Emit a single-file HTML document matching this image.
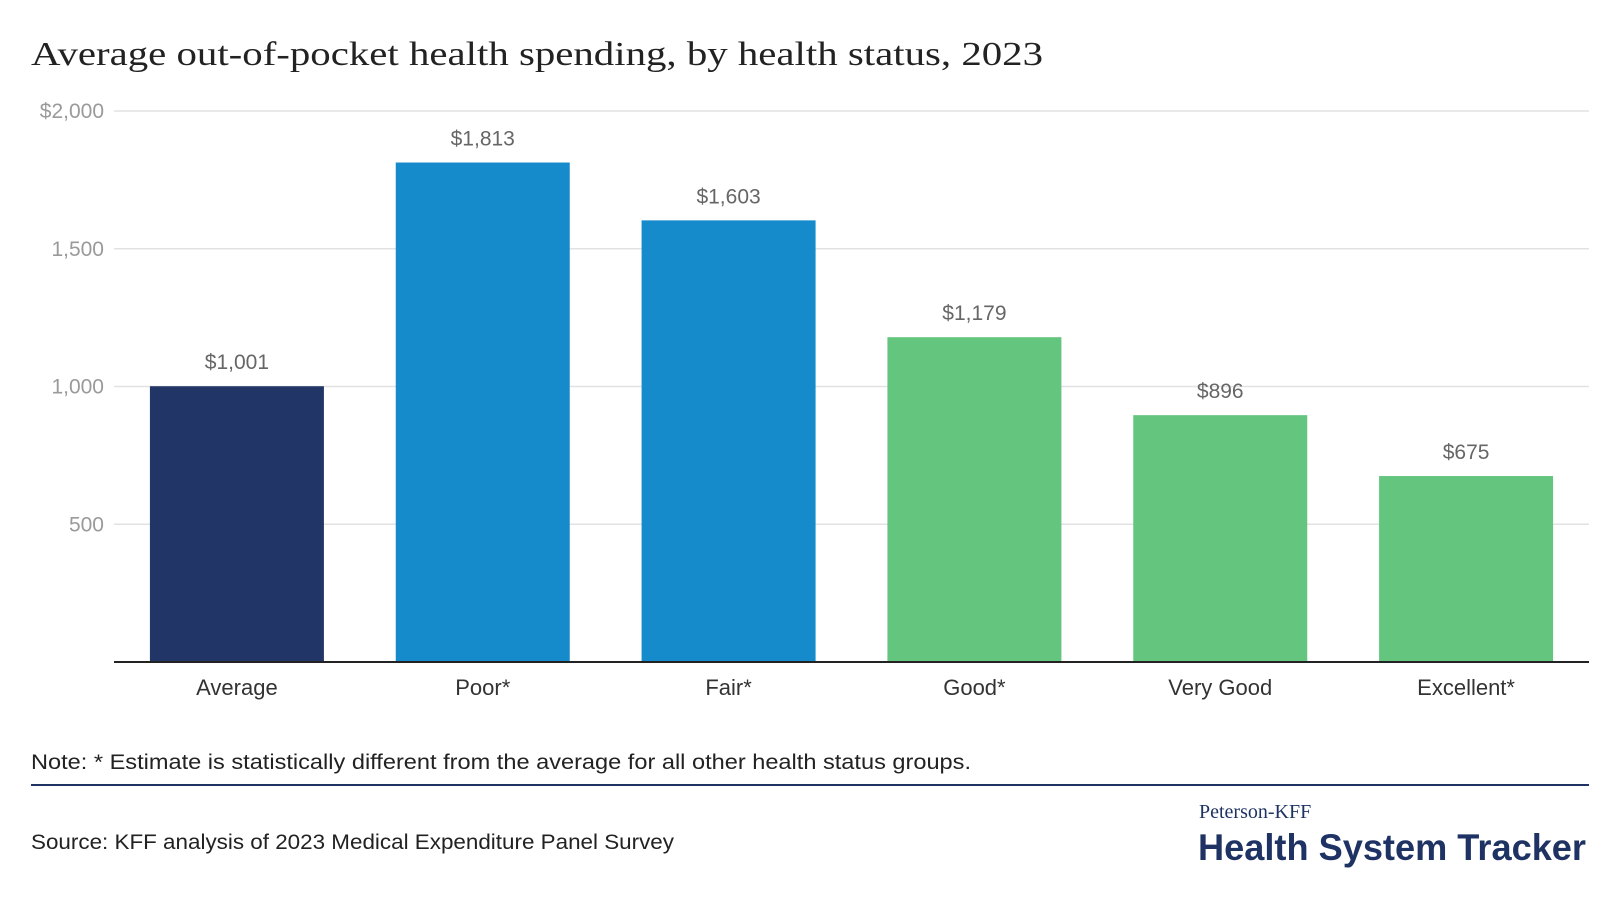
<!DOCTYPE html>
<html><head><meta charset="utf-8"><style>
html,body{margin:0;padding:0;background:#fff;width:1620px;height:920px;overflow:hidden;font-family:"Liberation Sans",sans-serif}
</style></head><body>
<svg width="1620" height="920" xmlns="http://www.w3.org/2000/svg">
<text x="31" y="65" font-family="Liberation Serif,serif" font-size="34" fill="#222" textLength="1012" lengthAdjust="spacingAndGlyphs">Average out-of-pocket health spending, by health status, 2023</text>
<g id="grid"></g>
<g id="bars"></g>
<line x1="31" y1="785" x2="1589" y2="785" stroke="#1e3364" stroke-width="2"/>
<text x="31" y="769" font-size="21" fill="#222" textLength="940" lengthAdjust="spacingAndGlyphs">Note: * Estimate is statistically different from the average for all other health status groups.</text>
<text x="31" y="849" font-size="21" fill="#222" textLength="643" lengthAdjust="spacingAndGlyphs">Source: KFF analysis of 2023 Medical Expenditure Panel Survey</text>
<text x="1199" y="818" font-family="Liberation Serif,serif" font-size="20" fill="#1e3364">Peterson-KFF</text>
<text x="1198" y="860" font-size="37" font-weight="bold" fill="#1e3364" textLength="388" lengthAdjust="spacingAndGlyphs">Health System Tracker</text>
</svg>
<script>
const categories=["Average","Poor*","Fair*","Good*","Very Good","Excellent*"];
const values=[1001,1813,1603,1179,896,675];
const labels=["$1,001","$1,813","$1,603","$1,179","$896","$675"];
const colors=["#213566","#168bcb","#168bcb","#63c57e","#63c57e","#63c57e"];
const ticks=[500,1000,1500,2000];
const tickLabels=["500","1,000","1,500","$2,000"];
const NS="http://www.w3.org/2000/svg";
const x0=114,x1=1589,y0=662,yTop=111,ymax=2000;
const band=(x1-x0)/categories.length,bw=174;
const y=v=>y0-(v/ymax)*(y0-yTop);
const xc=i=>x0+band*(i+0.5);
function mk(t,a,p){const e=document.createElementNS(NS,t);for(const k in a)e.setAttribute(k,a[k]);p.appendChild(e);return e;}
const g=document.getElementById('grid'),b=document.getElementById('bars');
ticks.forEach((t,i)=>{
 const l=mk('line',{x1:x0,x2:x1,y1:y(t),y2:y(t),stroke:'#e2e2e2','stroke-width':1.5},g);
 
 
 const tx=mk('text',{x:104,y:y(t)+7,'text-anchor':'end','font-size':21,fill:'#9a9a9a'},g);
 tx.textContent=tickLabels[i];
 
 
});
categories.forEach((c,i)=>{
 const r=mk('rect',{x:xc(i)-bw/2,y:y(values[i]),width:bw,height:y0-y(values[i]),fill:colors[i]},b);
 
 
 const v=mk('text',{x:xc(i),y:y(values[i])-17,'text-anchor':'middle','font-size':21,fill:'#666'},b);
 v.textContent=labels[i];
 
 
 const t=mk('text',{x:xc(i),y:695,'text-anchor':'middle','font-size':22,fill:'#333'},b);
 t.textContent=c;
 
 
});
const ax=mk('line',{x1:x0,x2:x1,y1:y0,y2:y0,stroke:'#222','stroke-width':2},b);


</script>
</body></html>
